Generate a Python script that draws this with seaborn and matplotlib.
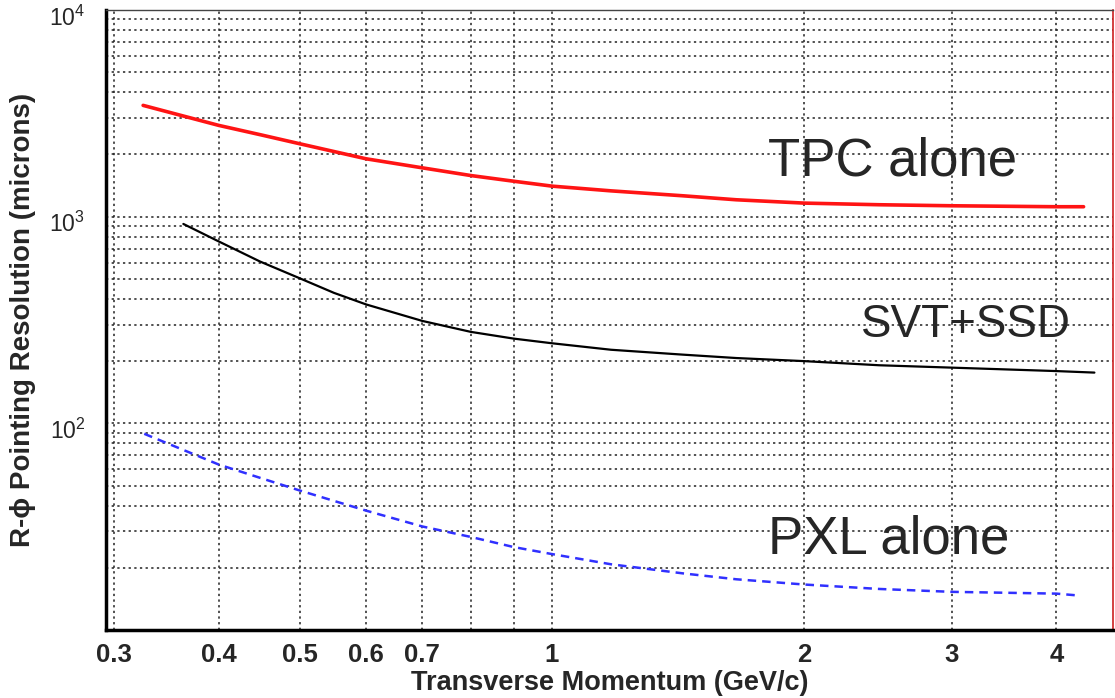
import matplotlib
matplotlib.use("Agg")
import matplotlib.pyplot as plt
import matplotlib.transforms as mtransforms
import seaborn as sns
import pandas as pd
from matplotlib.ticker import FixedLocator, LogLocator, NullFormatter

# values (pT in GeV/c, resolution in microns)
p_tpc = [0.325, 0.4, 0.45, 0.5, 0.6, 0.7, 0.8, 0.9, 1.0, 1.176, 1.432, 1.659, 2.0, 2.457, 3.0, 4.0, 4.31]
res_tpc = [3455, 2765, 2484, 2252, 1905, 1723, 1581, 1484, 1405, 1333, 1262, 1207, 1163, 1142, 1129, 1117, 1117]

p_svt = [0.363, 0.4, 0.448, 0.5, 0.549, 0.6, 0.7, 0.8, 0.9, 1.0, 1.176, 1.432, 1.659, 2.0, 2.457, 3.0, 4.0, 4.44]
res_svt = [922, 759, 607, 503, 428, 376, 313, 277, 257, 244, 227, 215, 207, 200, 191, 186, 179, 176]

p_pxl = [0.326, 0.4, 0.45, 0.5, 0.6, 0.7, 0.8, 0.9, 1.0, 1.176, 1.432, 1.659, 2.0, 2.457, 3.0, 4.0, 4.24]
res_pxl = [89, 63.2, 54.2, 47.3, 37.8, 31.7, 28.2, 25.2, 23.3, 20.8, 18.8, 17.6, 16.6, 15.8, 15.3, 15.0, 14.7]

x_minor_ticks = [0.3, 0.4, 0.5, 0.6, 0.7, 0.8, 0.9, 2, 3, 4]
x_minor_labels = ["0.3", "0.4", "0.5", "0.6", "0.7", "", "", "2", "3", "4"]
y_major_ticks = [100, 1000, 10000]
y_major_labels = [r"$\mathregular{10^{2}}$", r"$\mathregular{10^{3}}$", r"$\mathregular{10^{4}}$"]

sns.set_style("white")
plt.rcParams["font.family"] = ["Liberation Sans", "DejaVu Sans"]
plt.rcParams["mathtext.default"] = "regular"

fig, ax = plt.subplots(figsize=(11.15, 6.98), dpi=100)
fig.subplots_adjust(left=0.0951, right=0.998, bottom=0.0974, top=0.9857)

tpc = pd.DataFrame({"p": p_tpc, "res": res_tpc})
svt = pd.DataFrame({"p": p_svt, "res": res_svt})
pxl = pd.DataFrame({"p": p_pxl, "res": res_pxl})

sns.lineplot(data=tpc, x="p", y="res", ax=ax, color="#ff1414", linewidth=2.6,
             estimator=None, sort=False)
sns.lineplot(data=svt, x="p", y="res", ax=ax, color="black", linewidth=1.6,
             estimator=None, sort=False)
sns.lineplot(data=pxl, x="p", y="res", ax=ax, color="#3030ff", linewidth=1.8,
             estimator=None, sort=False)
ax.lines[-1].set_dashes([3.4, 2.4])

ax.set_xscale("log")
ax.set_yscale("log")
ax.set_xlim(0.2935, 4.67)
ax.set_ylim(10, 10000)

# x ticks: 1 is the long one, the rest are short
ax.xaxis.set_major_locator(FixedLocator([1]))
ax.set_xticks([1], labels=["1"], fontweight="bold")
ax.set_xticks(x_minor_ticks, labels=x_minor_labels, minor=True, fontweight="bold")
ax.tick_params(axis="x", which="both", direction="in", width=2, labelsize=18.5, pad=9)
ax.tick_params(axis="x", which="major", length=12)
ax.tick_params(axis="x", which="minor", length=7)

ax.set_yticks(y_major_ticks, labels=y_major_labels)
ax.yaxis.set_minor_locator(LogLocator(base=10, subs=range(2, 10)))
ax.yaxis.set_minor_formatter(NullFormatter())
ax.tick_params(axis="y", which="both", direction="in", width=2, labelsize=16.5, pad=15)
ax.tick_params(axis="y", which="major", length=20)
ax.tick_params(axis="y", which="minor", length=8.5)

# nudge the decade labels down a little, like the reference
shift = mtransforms.ScaledTranslation(0, -4 / 72, fig.dpi_scale_trans)
for lbl in ax.get_yticklabels():
    lbl.set_transform(lbl.get_transform() + shift)

ax.grid(True, which="both", linestyle=(0, (1.5, 2.2)), color="#222222", linewidth=1.1)
ax.set_axisbelow(True)

for side in ["left", "bottom"]:
    ax.spines[side].set_linewidth(2.5)
    ax.spines[side].set_color("black")
ax.spines["top"].set_linewidth(1.0)
ax.spines["top"].set_color("#444444")
ax.spines["right"].set_linewidth(1.2)
ax.spines["right"].set_color("#cc2020")

ax.text(1.81, 1590, "TPC alone", fontsize=38, va="baseline")
ax.text(2.34, 261, "SVT+SSD", fontsize=33, va="baseline")
ax.text(1.81, 23.5, "PXL alone", fontsize=38, va="baseline")

ax.set_xlabel("Transverse Momentum (GeV/c)", fontsize=19.5, fontweight="bold")
ax.xaxis.set_label_coords(0.5, -0.065)
ax.set_ylabel("R-ϕ Pointing Resolution (microns)", fontsize=20, fontweight="bold")
ax.yaxis.set_label_coords(-0.07, 0.5)

fig.savefig("out.png", dpi=100)
